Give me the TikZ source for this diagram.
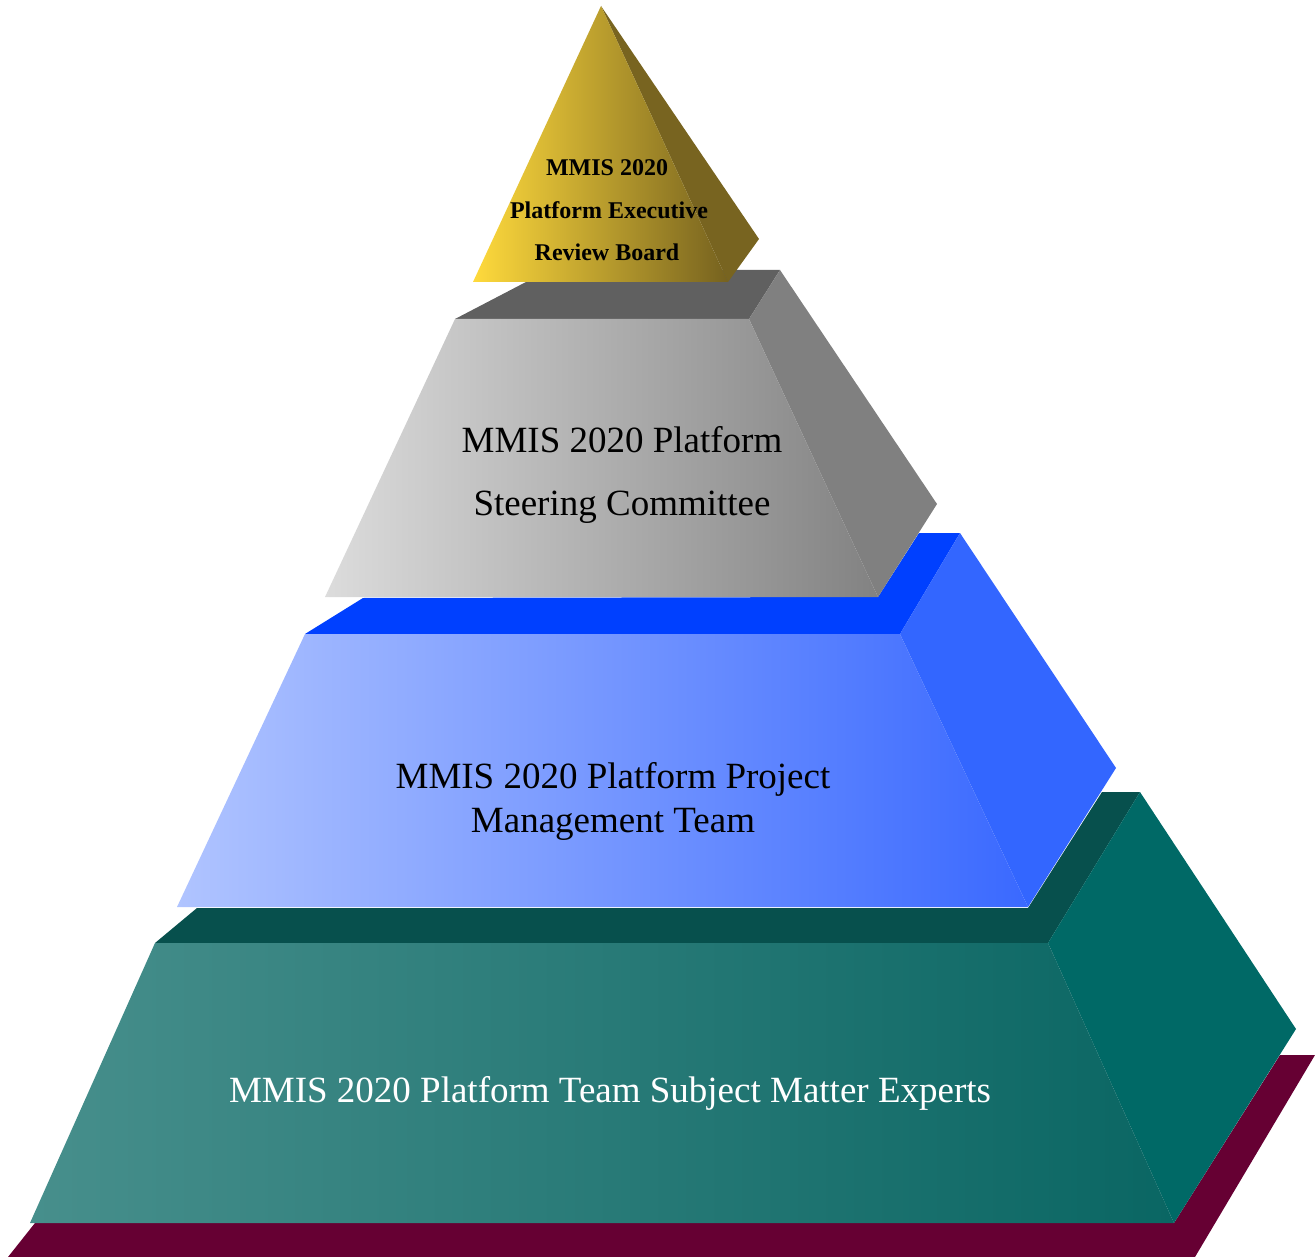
\documentclass[tikz,border=0pt]{standalone}
\usepackage{fontspec}
\setmainfont{Liberation Serif}
\definecolor{maroon}{HTML}{660033}
\definecolor{tealtop}{HTML}{07504D}
\definecolor{tealright}{HTML}{006966}
\definecolor{tealL}{HTML}{478F8C}
\definecolor{tealM}{HTML}{3A8482}
\definecolor{tealR}{HTML}{0A6663}
\definecolor{bluetop}{HTML}{0040FF}
\definecolor{blueright}{HTML}{3366FF}
\definecolor{blueL}{HTML}{B0C4FF}
\definecolor{blueM}{HTML}{A0B6FF}
\definecolor{blueR}{HTML}{3A69FF}
\definecolor{graytop}{HTML}{606060}
\definecolor{grayright}{HTML}{808080}
\definecolor{grayL}{HTML}{DCDCDC}
\definecolor{grayM}{HTML}{BBBBBB}
\definecolor{grayR}{HTML}{828282}
\definecolor{goldL}{HTML}{FFDA3C}
\definecolor{goldM}{HTML}{E2BE34}
\definecolor{goldR}{HTML}{76621F}
\definecolor{goldright}{HTML}{786420}
\tikzset{
  face/.style={draw=none},
  bigtext/.style={anchor=base, inner sep=0pt, font=\fontsize{37}{44}\selectfont},
  smalltext/.style={anchor=base, inner sep=0pt, font=\fontsize{24}{29}\selectfont\bfseries},
}
\begin{document}
\begin{tikzpicture}[x=1pt,y=-1pt]
\useasboundingbox (0,0) rectangle (1315,1257);
% base slab
\fill[maroon] (8,1257) -- (1195,1257) -- (1315,1055) -- (1280,1055) -- (1174,1223) -- (35,1223) -- cycle;
% teal layer
\fill[tealtop] (155,943) -- (1048,943) -- (1140,792) -- (1102,792) -- (1028,908) -- (197,908) -- cycle;
\fill[tealright] (1048,943) -- (1140,792) -- (1296,1029) -- (1174,1223) -- cycle;
\shade[left color=tealL, middle color=tealM, right color=tealR] (30,1223) -- (1174,1223) -- (1048,943) -- (155,943) -- cycle;
% blue layer
\fill[bluetop] (305,634) -- (900,634) -- (960,533) -- (919,533) -- (878,597) -- (363,598) -- cycle;
\fill[blueright] (900,634) -- (960,533) -- (1116,768) -- (1028,907) -- cycle;
\shade[left color=blueL, middle color=blueM, right color=blueR] (177,907) -- (1028,907) -- (900,634) -- (305,634) -- cycle;
% gray layer
\fill[graytop] (455,319) -- (749,319) -- (780,270) -- (549,270) -- cycle;
\fill[grayright] (749,319) -- (780,270) -- (937,504) -- (878,597) -- cycle;
\shade[left color=grayL, middle color=grayM, right color=grayR] (325,597) -- (878,597) -- (749,319) -- (455,319) -- cycle;
% gold pyramid
\fill[goldright] (601,6) -- (728,282) -- (759,239) -- cycle;
\shade[left color=goldL, middle color=goldM, right color=goldR] (601,6) -- (473,282) -- (728,282) -- cycle;
% texts
\node[smalltext] (g1) at (607,176) {MMIS 2020};
\node[smalltext] (g2) at (609,219) {Platform Executive};
\node[smalltext] (g3) at (607,261) {Review Board};
\node[bigtext] (s1) at (622,452) {MMIS 2020 Platform};
\node[bigtext] (s2) at (622,515) {Steering Committee};
\node[bigtext] (p1) at (613,788) {MMIS 2020 Platform Project};
\node[bigtext] (p2) at (613,832) {Management Team};
\node[bigtext, text=white] (t1) at (610,1102) {MMIS 2020 Platform Team Subject Matter Experts};
\end{tikzpicture}
\end{document}
